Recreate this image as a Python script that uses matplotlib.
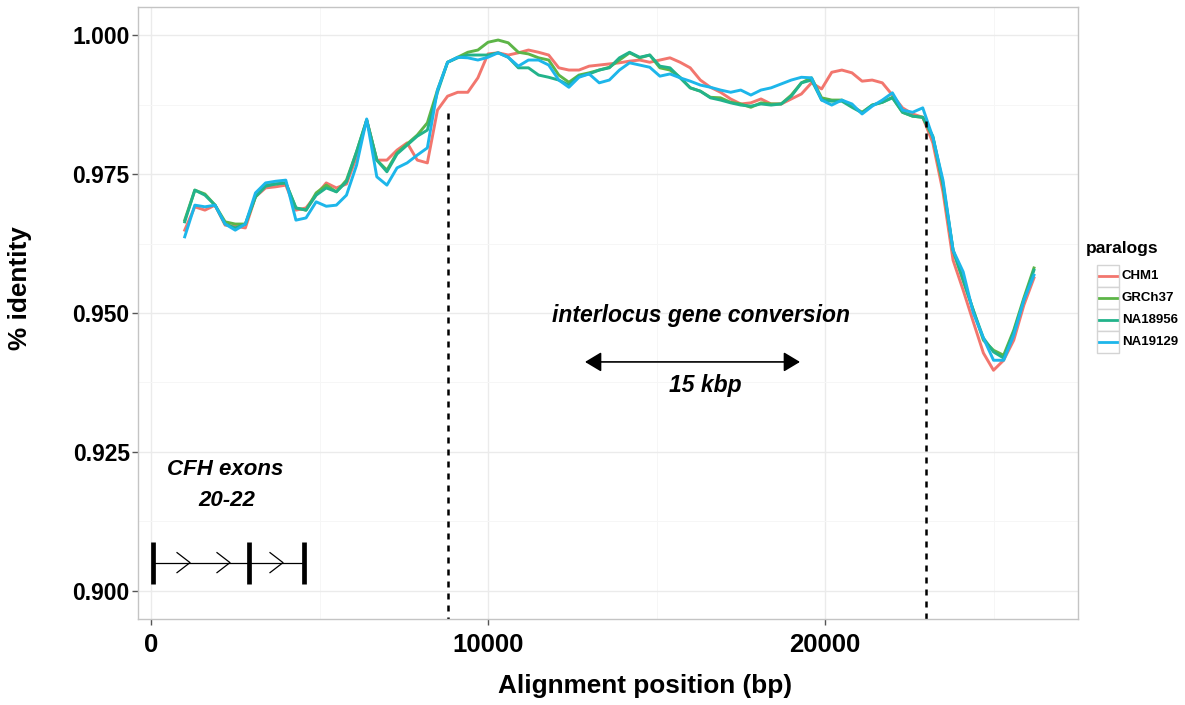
import numpy as np
import matplotlib
matplotlib.use("Agg")
import matplotlib.pyplot as plt
from matplotlib.patches import Rectangle
from matplotlib.lines import Line2D

plt.rcParams["font.family"] = ["Liberation Sans", "DejaVu Sans"]
plt.rcParams["font.weight"] = "bold"
plt.rcParams["axes.labelweight"] = "bold"

# Sliding-window start positions along the alignment (bp)
position = np.arange(1000, 26201, 300)

# Percent identity of each paralog pair per window
chm1 = [
    0.9649, 0.9691, 0.9685, 0.9694, 0.9658, 0.9656, 0.9653, 0.9709, 0.9725, 0.9727,
    0.9730, 0.9685, 0.9689, 0.9712, 0.9734, 0.9725, 0.9732, 0.9781, 0.9847, 0.9775,
    0.9775, 0.9793, 0.9806, 0.9775, 0.9770, 0.9865, 0.9890, 0.9897, 0.9897, 0.9923,
    0.9966, 0.9968, 0.9964, 0.9968, 0.9973, 0.9969, 0.9964, 0.9941, 0.9937, 0.9937,
    0.9944, 0.9946, 0.9948, 0.9950, 0.9953, 0.9955, 0.9951, 0.9955, 0.9959, 0.9951,
    0.9941, 0.9919, 0.9906, 0.9897, 0.9885, 0.9876, 0.9878, 0.9885, 0.9876, 0.9876,
    0.9885, 0.9894, 0.9914, 0.9903, 0.9933, 0.9937, 0.9932, 0.9917, 0.9919, 0.9914,
    0.9892, 0.9869, 0.9858, 0.9852, 0.9806, 0.9718, 0.9595, 0.9541, 0.9484, 0.9428,
    0.9397, 0.9415, 0.9451, 0.9514, 0.9563,
]
grch37 = [
    0.9667, 0.9721, 0.9714, 0.9694, 0.9664, 0.9660, 0.9660, 0.9709, 0.9730, 0.9732,
    0.9734, 0.9689, 0.9685, 0.9716, 0.9730, 0.9718, 0.9739, 0.9790, 0.9847, 0.9775,
    0.9757, 0.9788, 0.9804, 0.9820, 0.9842, 0.9901, 0.9951, 0.9960, 0.9969, 0.9973,
    0.9987, 0.9991, 0.9986, 0.9969, 0.9966, 0.9959, 0.9955, 0.9928, 0.9915, 0.9928,
    0.9932, 0.9937, 0.9942, 0.9955, 0.9968, 0.9959, 0.9964, 0.9941, 0.9937, 0.9924,
    0.9905, 0.9899, 0.9888, 0.9887, 0.9879, 0.9876, 0.9870, 0.9878, 0.9876, 0.9876,
    0.9892, 0.9914, 0.9923, 0.9887, 0.9883, 0.9883, 0.9872, 0.9861, 0.9874, 0.9879,
    0.9888, 0.9861, 0.9854, 0.9852, 0.9816, 0.9730, 0.9613, 0.9559, 0.9505, 0.9451,
    0.9433, 0.9424, 0.9469, 0.9527, 0.9581,
]
na18956 = [
    0.9664, 0.9721, 0.9712, 0.9694, 0.9660, 0.9653, 0.9660, 0.9709, 0.9728, 0.9732,
    0.9734, 0.9689, 0.9685, 0.9712, 0.9725, 0.9718, 0.9736, 0.9790, 0.9847, 0.9775,
    0.9754, 0.9786, 0.9802, 0.9818, 0.9829, 0.9897, 0.9951, 0.9959, 0.9964, 0.9964,
    0.9964, 0.9968, 0.9960, 0.9941, 0.9941, 0.9928, 0.9924, 0.9919, 0.9910, 0.9926,
    0.9930, 0.9937, 0.9941, 0.9959, 0.9969, 0.9960, 0.9964, 0.9944, 0.9941, 0.9923,
    0.9905, 0.9899, 0.9887, 0.9883, 0.9878, 0.9874, 0.9872, 0.9876, 0.9874, 0.9876,
    0.9890, 0.9914, 0.9919, 0.9883, 0.9881, 0.9881, 0.9870, 0.9860, 0.9874, 0.9879,
    0.9887, 0.9861, 0.9854, 0.9852, 0.9818, 0.9734, 0.9613, 0.9559, 0.9505, 0.9455,
    0.9430, 0.9419, 0.9466, 0.9523, 0.9577,
]
na19129 = [
    0.9637, 0.9694, 0.9691, 0.9694, 0.9660, 0.9649, 0.9660, 0.9716, 0.9734, 0.9737,
    0.9739, 0.9667, 0.9671, 0.9700, 0.9692, 0.9694, 0.9712, 0.9766, 0.9849, 0.9745,
    0.9730, 0.9761, 0.9770, 0.9784, 0.9797, 0.9901, 0.9951, 0.9960, 0.9959, 0.9955,
    0.9960, 0.9968, 0.9960, 0.9944, 0.9955, 0.9955, 0.9946, 0.9919, 0.9906, 0.9924,
    0.9930, 0.9914, 0.9919, 0.9937, 0.9950, 0.9946, 0.9942, 0.9926, 0.9930, 0.9923,
    0.9917, 0.9910, 0.9906, 0.9901, 0.9897, 0.9901, 0.9892, 0.9901, 0.9905, 0.9912,
    0.9919, 0.9924, 0.9923, 0.9883, 0.9874, 0.9883, 0.9876, 0.9858, 0.9872, 0.9883,
    0.9896, 0.9865, 0.9861, 0.9869, 0.9816, 0.9739, 0.9613, 0.9574, 0.9500, 0.9455,
    0.9415, 0.9415, 0.9460, 0.9523, 0.9568,
]

series_names = ["CHM1", "GRCh37", "NA18956", "NA19129"]
series_values = [chm1, grch37, na18956, na19129]
series_colors = ["#F2766E", "#5DB548", "#22B38B", "#1DB6EA"]

x_ticks = [0, 10000, 20000]
y_ticks = [0.900, 0.925, 0.950, 0.975, 1.000]

# Gene model for CFH exons 20-22
exon_positions = [69, 2917, 4549]
intron_arrow_starts = [772, 1958, 3531]
gene_y = 0.9051

# Boundaries of the converted tract
conversion_bounds = [8813, 22982]
conversion_tops = [0.9860, 0.9845]
scale_bar = [12878, 19258]

fig = plt.figure(figsize=(11.85, 7.05), dpi=100)
W, H = 1185, 705
PL, PR, PT, PB = 138, 1078, 7, 619
ax = fig.add_axes([PL / W, 1 - PB / H, (PR - PL) / W, (PB - PT) / H])
ax.set_xlim(-386, 27507)
ax.set_ylim(0.89496, 1.00504)

ax.set_xticks(x_ticks)
ax.set_xticks([5000, 15000, 25000], minor=True)
ax.set_yticks(y_ticks)
ax.set_yticks([0.9125, 0.9375, 0.9625, 0.9875], minor=True)
ax.set_xticklabels([str(v) for v in x_ticks])
ax.set_yticklabels([f"{v:.3f}" for v in y_ticks])
ax.grid(which="major", color="#ebebeb", lw=1.0)
ax.grid(which="minor", color="#f6f6f6", lw=0.7)
ax.set_axisbelow(True)
for s in ax.spines.values():
    s.set_color("#c4c4c4")
    s.set_linewidth(1.0)
ax.tick_params(which="major", length=4, width=1, color="#555555",
               labelcolor="black")
ax.tick_params(axis="y", which="major", labelsize=16.5, pad=2)
ax.tick_params(axis="x", which="major", labelsize=18.5, pad=6)
ax.tick_params(which="minor", length=0)

for name, vals, col in zip(series_names, series_values, series_colors):
    ax.plot(position, vals, color=col, lw=2.1, solid_joinstyle="round")

# Dashed boundaries of the interlocus gene conversion event
for xb, yt in zip(conversion_bounds, conversion_tops):
    ax.plot([xb, xb], [yt, 0.88], color="black", lw=1.8,
            ls=(0, (2.4, 2.4)), clip_on=True)

ax.annotate("", xy=(scale_bar[0], 0.9412), xytext=(scale_bar[1], 0.9412),
            arrowprops=dict(arrowstyle="<|-|>,head_length=0.5,head_width=0.3",
                            color="black", lw=1.2, mutation_scale=20,
                            shrinkA=0, shrinkB=0))
ax.text(16320, 0.9495, "interlocus gene conversion", style="italic",
        fontsize=16.5, ha="center", va="center")
ax.text(16440, 0.9369, "15 kbp", style="italic", fontsize=16.5,
        ha="center", va="center")

ax.text(2196, 0.9218, "CFH exons", style="italic", fontsize=16,
        ha="center", va="center")
ax.text(2255, 0.9163, "20-22", style="italic", fontsize=16,
        ha="center", va="center")

# Gene structure: intron line, exon bars, strand chevrons
ax.plot([exon_positions[0], exon_positions[-1]], [gene_y, gene_y],
        color="black", lw=0.9)
ax.vlines(exon_positions, 0.90126, 0.90887, color="black", lw=3.4)
for xs in intron_arrow_starts:
    ax.plot([xs, xs + 386, xs], [gene_y + 0.0018, gene_y, gene_y - 0.0018],
            color="black", lw=0.9)

ax.set_xlabel("Alignment position (bp)", fontsize=18.8, va="center", ha="center")
ax.set_ylabel("% identity", fontsize=18.8, va="center", ha="center")
ax.xaxis.set_label_coords((645 - PL) / (PR - PL), (PB - 686) / (PB - PT))
ax.yaxis.set_label_coords((20 - PL) / (PR - PL), (PB - 288) / (PB - PT))

# Legend
fig.text(1086 / W, 1 - 249 / H, "paralogs", fontsize=12.5, ha="left", va="center")
for i, (name, col) in enumerate(zip(series_names, series_colors)):
    top = 265 + 22 * i
    fig.add_artist(Rectangle((1097 / W, 1 - (top + 22) / H), 22 / W, 22 / H,
                             transform=fig.transFigure, facecolor="white",
                             edgecolor="#d4d4d4", lw=1.0))
    yc = 1 - (top + 11) / H
    fig.add_artist(Line2D([1099 / W, 1117 / W], [yc, yc], color=col, lw=2.0,
                          transform=fig.transFigure))
    fig.text(1122 / W, yc, name, fontsize=9.5, ha="left", va="center")

fig.savefig("out.png", dpi=100, facecolor="white")
